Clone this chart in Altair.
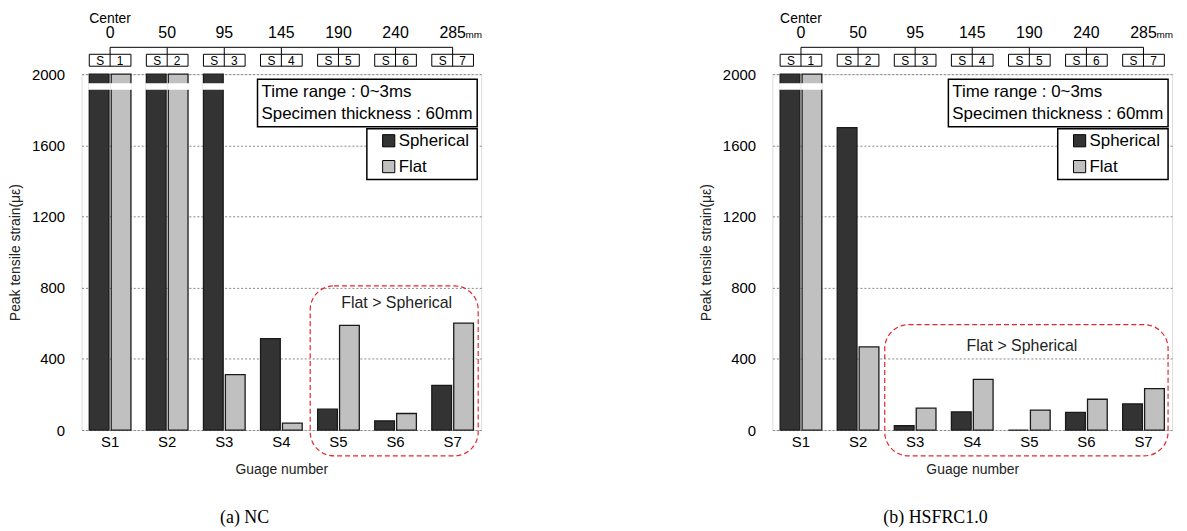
import altair as alt
import pandas as pd

# ---------------- data ----------------
gauges = ["S1", "S2", "S3", "S4", "S5", "S6", "S7"]
gauge_nums = ["1", "2", "3", "4", "5", "6", "7"]
positions_mm = ["0", "50", "95", "145", "190", "240", "285"]
series = ["Spherical", "Flat"]
colors = ["#333333", "#c0c0c0"]

# (a) NC  -- bars that run past the 2000 limit are shown broken (capped at 2000)
nc_spherical = [2000, 2000, 2000, 514, 117, 52, 251]
nc_flat = [2000, 2000, 311, 39, 588, 93, 601]
nc_spherical_broken = [True, True, True, False, False, False, False]
nc_flat_broken = [True, True, False, False, False, False, False]

# (b) HSFRC1.0
hs_spherical = [2000, 1700, 24, 102, 0, 99, 147]
hs_flat = [2000, 467, 123, 285, 112, 173, 233]
hs_spherical_broken = [True, False, False, False, False, False, False]
hs_flat_broken = [True, False, False, False, False, False, False]

info_lines = ["Time range : 0~3ms", "Specimen thickness : 60mm"]
note_text = "Flat > Spherical"
y_title = "Peak tensile strain(\u03bc\u03b5)"
x_title = "Guage number"
y_ticks = [0, 400, 800, 1200, 1600, 2000]

FONT = "Liberation Sans"
W, H = 402, 358

x_scale = alt.Scale(domain=gauges, paddingInner=0.27, paddingOuter=0.135)
x_axis = alt.Axis(title=x_title, labelAngle=0, labelFontSize=15, labelPadding=5,
                  ticks=False, domain=False, titleFontSize=14, titleFontWeight="normal",
                  titlePadding=13, labelColor="black", titleColor="#222", labelFont=FONT,
                  titleFont=FONT)
y_scale = alt.Scale(domain=[0, 2000], clamp=True, nice=False)
y_axis = alt.Axis(values=y_ticks, format="d", title=y_title, titleFontSize=14,
                  titleFontWeight="normal", labelFontSize=15, labelPadding=17, ticks=False,
                  domain=False, gridDash=[2, 2], gridColor="#888", gridWidth=1,
                  titlePadding=9, labelColor="black", titleColor="#222", labelFont=FONT,
                  titleFont=FONT)

one = pd.DataFrame({"k": [0]})


def X():
    return alt.X("gauge:N", sort=gauges, scale=x_scale, axis=x_axis)


def txt(**kw):
    return alt.Chart(one).mark_text(font=FONT, fontWeight="normal", **kw)


def panel(sph, flat, sph_b, flat_b, caption, red_box, red_text_xy):
    rows = []
    for g, s, f, bs, bf in zip(gauges, sph, flat, sph_b, flat_b):
        rows.append({"gauge": g, "series": "Spherical", "value": s, "broken": bs})
        rows.append({"gauge": g, "series": "Flat", "value": f, "broken": bf})
    df = pd.DataFrame(rows)
    gdf = pd.DataFrame({"gauge": gauges, "num": gauge_nums, "mm": positions_mm})

    xoff = alt.XOffset("series:N", sort=series,
                       scale=alt.Scale(domain=series, paddingInner=0.1))
    color = alt.Color("series:N", scale=alt.Scale(domain=series, range=colors), legend=None)

    bars = alt.Chart(df).mark_bar(stroke="#1a1a1a", strokeWidth=1.3).encode(
        x=X(), xOffset=xoff,
        y=alt.Y("value:Q", scale=y_scale, axis=y_axis, stack=None),
        color=color,
    )
    breaks = alt.Chart(df).transform_filter("datum.broken").transform_calculate(
        lo="1918", hi="1944"
    ).mark_bar(color="white", stroke="white", strokeWidth=2).encode(
        x=X(), xOffset=xoff,
        y=alt.Y("lo:Q", scale=y_scale, axis=y_axis, stack=None),
        y2="hi:Q",
    )

    # top gauge ruler
    base_g = alt.Chart(gdf)
    hline = base_g.mark_line(color="black", strokeWidth=1).encode(x=X(), y=alt.value(-27))
    vticks = base_g.mark_rule(color="black", strokeWidth=1).encode(
        x=X(), y=alt.value(-27), y2=alt.value(-8))
    boxes = base_g.mark_rect(fill="white", stroke="black", strokeWidth=1).encode(
        x=X(), y=alt.value(-20), y2=alt.value(-8))
    vticks2 = base_g.mark_rule(color="black", strokeWidth=1).encode(
        x=X(), y=alt.value(-20), y2=alt.value(-8))
    s_txt = base_g.mark_text(font=FONT, fontSize=12, dx=-10, color="black").encode(
        x=X(), y=alt.value(-13.5), text=alt.value("S"))
    n_txt = base_g.mark_text(font=FONT, fontSize=12, dx=10, color="black").encode(
        x=X(), y=alt.value(-13.5), text="num:N")
    mm_txt = base_g.mark_text(font=FONT, fontSize=16, color="black").encode(
        x=X(), y=alt.value(-41), text="mm:N")
    unit_txt = base_g.transform_filter(f"datum.gauge == '{gauges[-1]}'").mark_text(
        font=FONT, fontSize=10, align="left", dx=13, color="black").encode(
        x=X(), y=alt.value(-39), text=alt.value("mm"))
    center_txt = base_g.transform_filter(f"datum.gauge == '{gauges[0]}'").mark_text(
        font=FONT, fontSize=14, color="black").encode(
        x=X(), y=alt.value(-55), text=alt.value("Center"))

    # info box
    info_box = alt.Chart(one).mark_rect(filled=False, stroke="black", strokeWidth=1.5).encode(
        x=alt.value(W - 225), x2=alt.value(W - 4), y=alt.value(5), y2=alt.value(53))
    info1 = txt(fontSize=17, align="left", color="black").encode(
        x=alt.value(W - 221), y=alt.value(18), text=alt.value(info_lines[0]))
    info2 = txt(fontSize=17, align="left", color="black").encode(
        x=alt.value(W - 221), y=alt.value(40), text=alt.value(info_lines[1]))

    # legend
    leg_box = alt.Chart(one).mark_rect(fill="white", stroke="black", strokeWidth=1.5).encode(
        x=alt.value(W - 115), x2=alt.value(W - 4), y=alt.value(55), y2=alt.value(106))
    legend_layers = [leg_box]
    for i, (s, c) in enumerate(zip(series, colors)):
        yy = 67 + 26 * i
        legend_layers.append(alt.Chart(one).mark_square(
            size=150, fill=c, stroke="black", strokeWidth=1, opacity=1).encode(
            x=alt.value(W - 93), y=alt.value(yy)))
        legend_layers.append(txt(fontSize=17, align="left", color="black").encode(
            x=alt.value(W - 83), y=alt.value(yy), text=alt.value(s)))

    # red dashed region
    rx1, rx2, ry1, ry2 = red_box
    red = alt.Chart(one).mark_rect(filled=False, stroke="#e0282e", strokeDash=[5, 3],
                                   strokeWidth=1.2, cornerRadius=24).encode(
        x=alt.value(rx1), x2=alt.value(rx2), y=alt.value(ry1), y2=alt.value(ry2))
    red_txt = txt(fontSize=16, color="#222").encode(
        x=alt.value(red_text_xy[0]), y=alt.value(red_text_xy[1]), text=alt.value(note_text))

    cap = alt.Chart(one).mark_text(font="Liberation Serif", fontSize=18,
                                   fontWeight="normal", color="black").encode(
        x=alt.value(164), y=alt.value(447), text=alt.value(caption))

    return alt.layer(
        bars, breaks, hline, vticks, boxes, vticks2, s_txt, n_txt, mm_txt, unit_txt,
        center_txt, info_box, info1, info2, *legend_layers, red, red_txt, cap
    ).properties(width=W, height=H)


left = panel(nc_spherical, nc_flat, nc_spherical_broken, nc_flat_broken, "(a) NC",
             (230, 399, 213, 384), (317, 230))
right = panel(hs_spherical, hs_flat, hs_spherical_broken, hs_flat_broken, "(b) HSFRC1.0",
              (113, 398, 252, 384), (251, 273))

chart = alt.hconcat(left, right, spacing=217).properties(
    padding={"left": 0, "top": 2, "right": 5, "bottom": 0}
).configure_view(stroke="black", strokeWidth=2.5).configure(font=FONT)

chart.save("out.html", embed_options={"renderer": "svg", "actions": False})
